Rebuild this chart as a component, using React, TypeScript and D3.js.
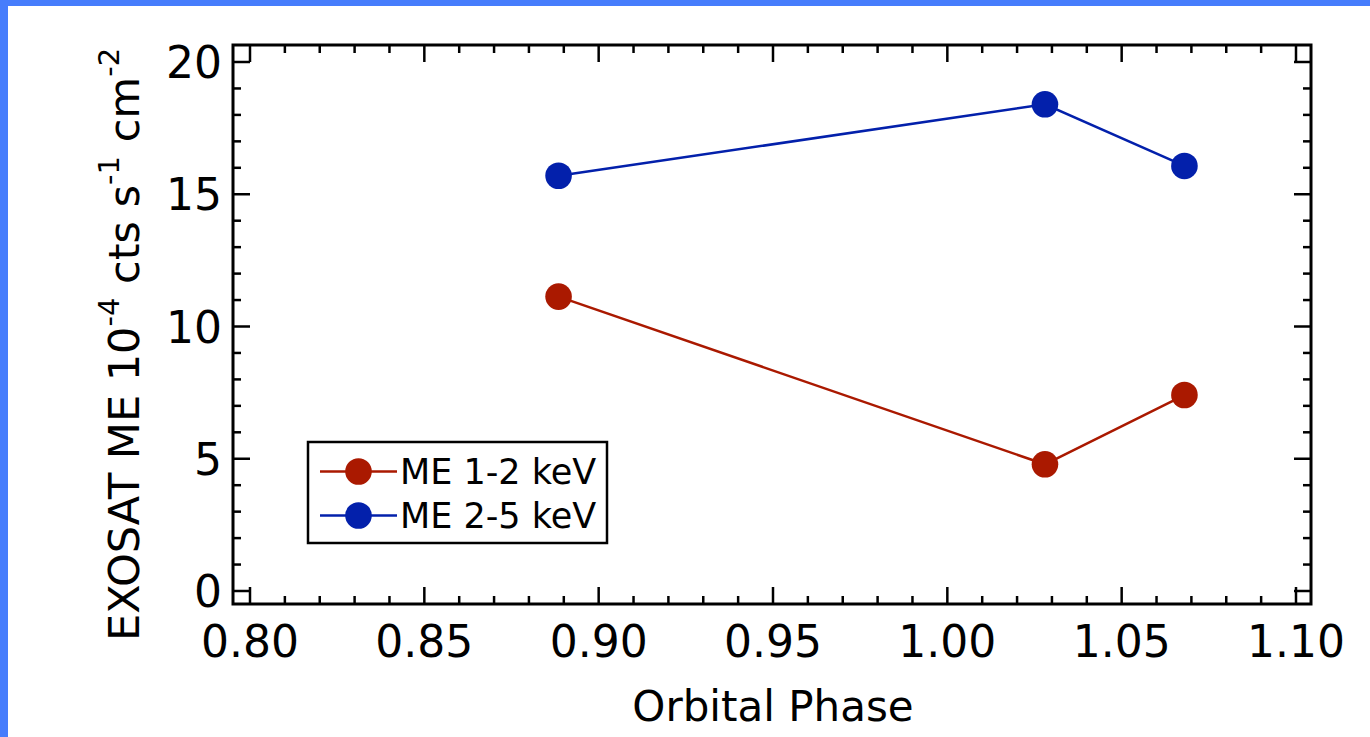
import React from "react";
import * as d3 from "d3";

// ---- data ----
const phase = [0.8885, 1.028, 1.068];
const me12 = [11.13, 4.79, 7.41];
const me25 = [15.7, 18.4, 16.07];
const seriesNames = ["ME 1-2 keV", "ME 2-5 keV"];
const seriesColors = ["#aa1900", "#0320ab"];
const xMajorTicks = [0.8, 0.85, 0.9, 0.95, 1.0, 1.05, 1.1];
const yMajorTicks = [0, 5, 10, 15, 20];
const xTitle = "Orbital Phase";

const W = 1370;
const H = 737;
const FONT = "'DejaVu Sans', Verdana, sans-serif";

export default function App() {
  const x = d3.scaleLinear().domain([0.8, 1.1]).range([250, 1296]);
  const y = d3.scaleLinear().domain([0, 20]).range([591, 62]);
  const frame = { x0: 233, x1: 1311, y0: 45, y1: 604 };

  const xMinor = d3.range(0, 31).map((i) => 0.8 + i * 0.01);
  const yMinor = d3.range(0, 21);
  const isXMajor = (v: number) => xMajorTicks.some((m) => Math.abs(m - v) < 1e-6);
  const isYMajor = (v: number) => yMajorTicks.includes(v);

  const line = d3
    .line<[number, number]>()
    .x((d) => x(d[0]))
    .y((d) => y(d[1]));

  const series = [me12, me25].map((vals) =>
    vals.map((v, i) => [phase[i], v] as [number, number])
  );

  const majorLen = 17;
  const minorLen = 8;
  const tickW = 2.5;

  return (
    <div style={{ position: "fixed", left: 0, top: 0, width: W, height: H, background: "#fff" }}>
      <svg width={W} height={H} style={{ display: "block" }}>
        <rect x={0} y={0} width={W} height={H} fill="#fff" />
        {/* blue border */}
        <rect x={0} y={0} width={W} height={6} fill="#467dfc" />
        <rect x={0} y={0} width={8} height={H} fill="#467dfc" />

        {/* ticks */}
        <g stroke="#000" strokeWidth={tickW}>
          {xMinor.map((v, i) => {
            const len = isXMajor(v) ? majorLen : minorLen;
            const px = x(v);
            return (
              <g key={"xt" + i}>
                <line x1={px} x2={px} y1={frame.y1} y2={frame.y1 - len} />
                <line x1={px} x2={px} y1={frame.y0} y2={frame.y0 + len} />
              </g>
            );
          })}
          {yMinor.map((v, i) => {
            const len = isYMajor(v) ? majorLen : minorLen;
            const py = y(v);
            return (
              <g key={"yt" + i}>
                <line x1={frame.x0} x2={frame.x0 + len} y1={py} y2={py} />
                <line x1={frame.x1} x2={frame.x1 - len} y1={py} y2={py} />
              </g>
            );
          })}
        </g>

        {/* frame */}
        <rect
          x={frame.x0}
          y={frame.y0}
          width={frame.x1 - frame.x0}
          height={frame.y1 - frame.y0}
          fill="none"
          stroke="#000"
          strokeWidth={3}
        />

        {/* tick labels */}
        <g fontFamily={FONT} fontSize={44} fill="#000">
          {xMajorTicks.map((v, i) => (
            <text key={"xl" + i} x={x(v)} y={657} textAnchor="middle">
              {v.toFixed(2)}
            </text>
          ))}
          {yMajorTicks.map((v, i) => (
            <text key={"yl" + i} x={222} y={y(v) + 16} textAnchor="end">
              {v}
            </text>
          ))}
        </g>

        {/* axis titles */}
        <text x={773} y={721} textAnchor="middle" fontFamily={FONT} fontSize={42} fill="#000">
          {xTitle}
        </text>
        <text
          transform="translate(139,641) rotate(-90)"
          fontFamily={FONT}
          fontSize={43}
          fill="#000"
        >
          <tspan>EXOSAT ME 10</tspan>
          <tspan fontSize={29} dy={-20}>-4</tspan>
          <tspan dy={20}> cts s</tspan>
          <tspan fontSize={29} dy={-20}>-1</tspan>
          <tspan dy={20}> cm</tspan>
          <tspan fontSize={29} dy={-20}>-2</tspan>
        </text>

        {/* data */}
        {series.map((pts, si) => (
          <g key={"s" + si}>
            <path d={line(pts) || ""} fill="none" stroke={seriesColors[si]} strokeWidth={2.5} />
            {pts.map((p, i) => (
              <circle key={i} cx={x(p[0])} cy={y(p[1])} r={13.3} fill={seriesColors[si]} />
            ))}
          </g>
        ))}

        {/* legend */}
        <g>
          <rect x={308} y={442} width={299} height={101} fill="#fff" stroke="#000" strokeWidth={2.5} />
          {seriesNames.map((name, i) => {
            const cy = 471.5 + i * 44;
            return (
              <g key={"lg" + i}>
                <line x1={320} x2={397} y1={cy} y2={cy} stroke={seriesColors[i]} strokeWidth={2.5} />
                <circle cx={358.5} cy={cy} r={13.3} fill={seriesColors[i]} />
                <text x={400} y={cy + 12} fontFamily={FONT} fontSize={35} fill="#000">
                  {name}
                </text>
              </g>
            );
          })}
        </g>
      </svg>
    </div>
  );
}
